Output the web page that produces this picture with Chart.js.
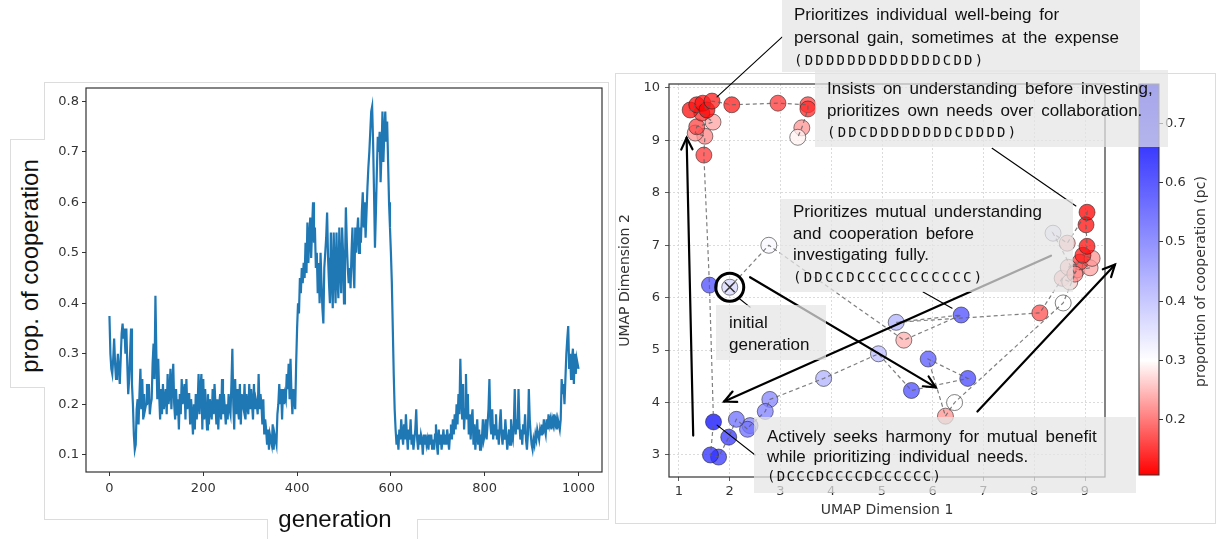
<!DOCTYPE html>
<html><head><meta charset="utf-8">
<script src="https://cdn.jsdelivr.net/npm/chart.js@4"></script>
<style>
html,body{margin:0;padding:0;background:#fff;}
body{width:1225px;height:539px;position:relative;overflow:hidden;font-family:"Liberation Sans",Arial,sans-serif;}
.abs{position:absolute;}
.panel{position:absolute;border:1px solid #dcdcdc;box-sizing:border-box;}
.note{position:absolute;background:rgba(228,228,228,0.72);color:#111;font-size:17px;box-sizing:border-box;white-space:nowrap;word-spacing:3px;}
.mono{font-family:"DejaVu Sans Mono",monospace;font-size:14px;letter-spacing:2.2px;word-spacing:0;}
</style></head><body>
<div class="panel" style="left:44px;top:82px;width:565px;height:438px"></div>
<div class="panel" style="left:615px;top:73px;width:601px;height:451px"></div>
<canvas id="leftChart" class="abs" style="left:0;top:0" width="615" height="539"></canvas>
<canvas id="umapChart" class="abs" style="left:615px;top:0" width="520" height="539"></canvas>
<canvas id="cbChart" class="abs" style="left:1130px;top:0" width="95" height="539"></canvas>

<div class="abs" style="left:10px;top:139px;width:35px;height:249px;background:#fff;border:1px solid #ddd;border-right:none;box-sizing:border-box"></div>
<div class="abs" style="left:30px;top:266px;transform:translate(-50%,-50%) rotate(-90deg);font-size:24px;white-space:nowrap;color:#111">prop. of cooperation</div>
<div class="abs" style="left:267px;top:519px;width:151px;height:25px;background:#fff;border-left:1px solid #ddd;border-right:1px solid #ddd;box-sizing:border-box"></div>
<div class="abs" style="left:335px;top:519px;transform:translate(-50%,-50%);font-size:24px;white-space:nowrap;color:#111">generation</div>

<div class="note" style="left:782px;top:0;width:358px;height:72px;padding:4px 0 0 12px;line-height:22.5px">Prioritizes individual well-being for<br>personal gain, sometimes at the expense<br><span class="mono">(DDDDDDDDDDDDDCDD)</span></div>
<div class="note" style="left:815px;top:70px;width:353px;height:77px;padding:8px 0 0 12px;line-height:21.5px">Insists on understanding before investing,<br>prioritizes own needs over collaboration.<br><span class="mono">(DDCDDDDDDDDCDDDD)</span></div>
<div class="note" style="left:780px;top:199px;width:293px;height:93px;padding:2px 0 0 13px;line-height:21.5px">Prioritizes mutual understanding<br>and cooperation before<br>investigating fully.<br><span class="mono">(DDCCDCCCCCCCCCCC)</span></div>
<div class="note" style="left:716px;top:305px;width:110px;height:55px;padding:7px 0 0 13px;line-height:22px">initial<br>generation</div>
<div class="note" style="left:754px;top:417px;width:382px;height:76px;padding:10px 0 0 13px;line-height:19.5px">Actively seeks harmony for mutual benefit<br>while prioritizing individual needs.<br><span class="mono" style="letter-spacing:1.3px">(DCCCDCCCCDCCCCCC)</span></div>

<script>
// ---------- Left chart data: proportion of cooperation per generation (every 2 generations) ----------
const GEN_STEP = 2;
const coopProp = [
0.375,0.30,0.27,0.26,0.29,0.33,0.28,0.25,0.27,0.30,
0.27,0.24,0.29,0.34,0.36,0.33,0.35,0.30,0.35,0.28,
0.22,0.25,0.30,0.35,0.24,0.20,0.14,0.11,0.12,0.19,
0.21,0.16,0.22,0.27,0.19,0.25,0.17,0.22,0.19,0.20,
0.24,0.20,0.24,0.18,0.20,0.21,0.28,0.32,0.25,0.415,
0.30,0.21,0.29,0.22,0.17,0.23,0.18,0.24,0.19,0.21,
0.23,0.18,0.26,0.20,0.22,0.27,0.19,0.24,0.28,0.20,
0.17,0.23,0.18,0.21,0.15,0.22,0.18,0.25,0.20,0.22,
0.24,0.17,0.25,0.19,0.22,0.22,0.16,0.21,0.18,0.14,
0.20,0.15,0.22,0.17,0.20,0.26,0.18,0.23,0.26,0.15,
0.25,0.17,0.23,0.19,0.15,0.22,0.16,0.21,0.19,0.17,
0.23,0.18,0.24,0.20,0.16,0.21,0.15,0.20,0.22,0.17,
0.25,0.18,0.22,0.19,0.16,0.20,0.17,0.22,0.19,0.18,
0.24,0.31,0.20,0.15,0.25,0.18,0.23,0.19,0.17,0.24,
0.16,0.22,0.20,0.19,0.24,0.17,0.22,0.20,0.18,0.24,
0.19,0.23,0.20,0.17,0.24,0.19,0.21,0.20,0.18,0.26,
0.19,0.22,0.20,0.16,0.21,0.14,0.17,0.15,0.12,0.15,
0.11,0.14,0.13,0.12,0.16,0.11,0.14,0.13,0.12,0.18,
0.20,0.24,0.20,0.23,0.17,0.23,0.20,0.22,0.21,0.26,
0.23,0.28,0.21,0.29,0.22,0.18,0.23,0.21,0.19,0.28,
0.35,0.40,0.38,0.45,0.42,0.47,0.44,0.48,0.45,0.52,
0.46,0.56,0.48,0.53,0.57,0.49,0.55,0.60,0.52,0.55,
0.47,0.50,0.42,0.48,0.40,0.50,0.44,0.39,0.36,0.47,
0.50,0.53,0.58,0.49,0.44,0.40,0.54,0.45,0.39,0.54,
0.47,0.40,0.54,0.45,0.41,0.55,0.47,0.42,0.55,0.50,
0.40,0.47,0.59,0.52,0.47,0.44,0.47,0.43,0.50,0.55,
0.47,0.43,0.55,0.50,0.54,0.57,0.50,0.55,0.52,0.58,
0.62,0.55,0.60,0.53,0.58,0.63,0.67,0.70,0.74,0.78,
0.79,0.72,0.62,0.51,0.58,0.66,0.73,0.70,0.74,0.64,
0.70,0.78,0.68,0.74,0.78,0.72,0.76,0.68,0.60,0.55,
0.50,0.44,0.35,0.26,0.19,0.15,0.12,0.14,0.11,0.15,
0.13,0.17,0.14,0.12,0.16,0.13,0.18,0.14,0.11,0.15,
0.13,0.17,0.12,0.14,0.11,0.13,0.15,0.19,0.13,0.11,
0.14,0.12,0.14,0.13,0.10,0.14,0.12,0.14,0.12,0.13,
0.11,0.14,0.12,0.14,0.11,0.13,0.11,0.14,0.16,0.12,
0.10,0.15,0.12,0.14,0.11,0.13,0.15,0.12,0.14,0.12,
0.15,0.13,0.11,0.14,0.16,0.13,0.17,0.14,0.18,0.15,
0.20,0.16,0.22,0.18,0.29,0.21,0.17,0.24,0.15,0.19,
0.26,0.17,0.22,0.14,0.18,0.13,0.17,0.19,0.12,0.16,
0.11,0.14,0.17,0.12,0.15,0.11,0.14,0.13,0.17,0.13,
0.14,0.17,0.13,0.16,0.19,0.25,0.16,0.14,0.19,0.13,
0.16,0.14,0.18,0.13,0.15,0.12,0.16,0.19,0.14,0.12,
0.15,0.13,0.17,0.14,0.11,0.13,0.15,0.12,0.17,0.14,
0.13,0.16,0.23,0.14,0.17,0.15,0.23,0.16,0.13,0.15,
0.12,0.16,0.14,0.18,0.13,0.11,0.14,0.23,0.17,0.14,
0.12,0.11,0.13,0.12,0.14,0.13,0.15,0.14,0.13,0.15,
0.14,0.16,0.14,0.17,0.15,0.14,0.17,0.15,0.18,0.16,
0.17,0.15,0.17,0.16,0.18,0.16,0.17,0.15,0.17,0.16,
0.15,0.17,0.25,0.22,0.24,0.20,0.25,0.30,0.33,0.355,
0.27,0.30,0.25,0.29,0.31,0.24,0.30,0.26,0.29,0.28,
0.27
];
const leftXTicks = [0,200,400,600,800,1000];
const leftYTicks = [0.1,0.2,0.3,0.4,0.5,0.6,0.7,0.8];

// ---------- Right chart data: UMAP trajectory of strategies ----------
const umapX  = [2.00,2.77,5.43,6.56,5.28,8.11,8.55,8.70,8.84,9.10,8.90,8.67,9.14,8.96,9.04,9.02,9.04,8.65,8.37,8.80,8.57,6.43,6.25,5.91,6.69,5.58,4.93,3.85,2.79,2.70,2.40,2.35,2.13,1.98,1.78,1.62,1.68,1.60,1.49,1.51,1.32,1.35,1.67,1.45,1.22,1.35,1.47,1.55,1.65,2.04,2.95,3.54,3.54,3.42,3.34];
const umapY  = [6.20,7.00,5.19,5.67,5.53,5.71,6.37,6.30,6.53,6.57,6.68,6.58,6.75,6.81,6.98,7.39,7.63,7.04,7.23,6.45,5.90,4.00,3.74,4.83,4.46,4.23,4.93,4.46,4.06,3.83,3.56,3.49,3.68,3.34,2.96,3.00,3.63,6.24,8.72,9.08,9.14,9.26,9.35,9.52,9.58,9.68,9.71,9.58,9.75,9.68,9.71,9.68,9.60,9.24,9.06];
const umapPc = [0.37,0.31,0.24,0.62,0.44,0.17,0.23,0.26,0.22,0.23,0.16,0.24,0.22,0.13,0.12,0.12,0.11,0.24,0.36,0.21,0.30,0.30,0.22,0.60,0.63,0.62,0.42,0.44,0.52,0.53,0.52,0.56,0.56,0.66,0.66,0.68,0.74,0.62,0.15,0.21,0.22,0.16,0.23,0.14,0.12,0.12,0.12,0.11,0.13,0.13,0.15,0.16,0.14,0.22,0.29];
const umapXTicks = [1,2,3,4,5,6,7,8,9];
const umapYTicks = [3,4,5,6,7,8,9,10];

// Colorbar
const cbMin = 0.107, cbCenter = 0.30, cbMax = 0.766;
const cbTicks = [0.2,0.3,0.4,0.5,0.6,0.7];

// Annotation geometry in data units [x0,y0,x1,y1]
const annotationArrows = [[2.40,6.39,6.06,4.29],[8.33,6.80,1.89,4.02],[1.28,3.37,1.15,9.05],[6.88,3.83,9.59,6.63]];
const connectorLines = [[3.03,10.97,1.75,9.83],[7.17,8.85,8.82,7.75],[5.81,6.11,6.38,5.80],[2.18,5.99,2.40,5.82],[1.75,3.57,2.50,3.00]];

Chart.defaults.font.family = "DejaVu Sans";
Chart.defaults.devicePixelRatio = 1;

function pcColor(v, a){
  let r,g,b;
  if (v <= cbCenter){ const t = Math.max(0,Math.min(1,(v-cbMin)/(cbCenter-cbMin))); r=255; g=b=Math.round(255*t); }
  else { const t = Math.max(0,Math.min(1,(v-cbCenter)/(cbMax-cbCenter))); r=g=Math.round(255*(1-t)); b=255; }
  return `rgba(${r},${g},${b},${a})`;
}
function setTicks(arr){ return s => { s.ticks = arr.map(v=>({value:v})); }; }

const framePlugin = {
  id:'frame',
  afterDatasetsDraw(chart){
    const {ctx, chartArea:a} = chart;
    ctx.save(); ctx.strokeStyle='#333'; ctx.lineWidth=1.2;
    ctx.strokeRect(a.left, a.top, a.right-a.left, a.bottom-a.top);
    ctx.restore();
  }
};

// ---------- Left chart ----------
new Chart(document.getElementById('leftChart'), {
  type:'line',
  data:{datasets:[{data: coopProp.map((v,i)=>({x:i*GEN_STEP, y:v})), borderColor:'#1f77b4', borderWidth:2.2, pointRadius:0, tension:0, fill:false}]},
  options:{
    responsive:false, animation:false,
    layout:{padding:{left:0, top:88, right:13, bottom:0}},
    plugins:{legend:{display:false}, tooltip:{enabled:false}},
    scales:{
      x:{type:'linear', min:-50, max:1050, afterBuildTicks:setTicks(leftXTicks), afterFit:s=>{s.height=67;},
         grid:{drawOnChartArea:false, drawTicks:true, tickLength:4, tickColor:'#333'}, border:{display:false},
         ticks:{font:{size:13}, color:'#333', padding:5, maxRotation:0, callback:v=>String(v)}},
      y:{type:'linear', min:0.0657, max:0.8266, afterBuildTicks:setTicks(leftYTicks), afterFit:s=>{s.width=86;},
         grid:{drawOnChartArea:false, drawTicks:true, tickLength:4, tickColor:'#333'}, border:{display:false},
         ticks:{font:{size:13}, color:'#333', padding:3, callback:v=>v.toFixed(1)}}
    }
  },
  plugins:[framePlugin]
});

// ---------- Right chart ----------
function drawArrow(ctx,x0,y0,x1,y1,head){
  ctx.beginPath(); ctx.moveTo(x0,y0); ctx.lineTo(x1,y1); ctx.stroke();
  const a = Math.atan2(y1-y0, x1-x0);
  ctx.beginPath();
  ctx.moveTo(x1-head*Math.cos(a-0.45), y1-head*Math.sin(a-0.45));
  ctx.lineTo(x1,y1);
  ctx.lineTo(x1-head*Math.cos(a+0.45), y1-head*Math.sin(a+0.45));
  ctx.stroke();
}
const annotPlugin = {
  id:'annot',
  afterDatasetsDraw(chart){
    const {ctx, scales:{x,y}} = chart;
    ctx.save(); ctx.strokeStyle='#000'; ctx.lineCap='round';
    ctx.lineWidth=1.1;
    connectorLines.forEach(l=>{ ctx.beginPath(); ctx.moveTo(x.getPixelForValue(l[0]), y.getPixelForValue(l[1])); ctx.lineTo(x.getPixelForValue(l[2]), y.getPixelForValue(l[3])); ctx.stroke(); });
    ctx.lineWidth=2.2;
    annotationArrows.forEach(l=>drawArrow(ctx, x.getPixelForValue(l[0]), y.getPixelForValue(l[1]), x.getPixelForValue(l[2]), y.getPixelForValue(l[3]), 13));
    ctx.restore();
  }
};
const pathPoints = umapX.map((vx,i)=>({x:vx, y:umapY[i]}));
new Chart(document.getElementById('umapChart'), {
  type:'scatter',
  data:{datasets:[
    {data:[pathPoints[0]], pointRadius:14, pointBorderWidth:3, pointBorderColor:'#000', pointBackgroundColor:'rgba(0,0,0,0)', showLine:false, order:0},
    {data:[pathPoints[0]], pointStyle:'crossRot', pointRadius:7, pointBorderColor:'#333', pointBorderWidth:1.5, showLine:false, order:1},
    {data:pathPoints, showLine:true, pointRadius:0, borderColor:'rgba(95,95,95,0.8)', borderWidth:1.2, borderDash:[4,3], order:2},
    {data:pathPoints, showLine:false, pointRadius:8, pointBackgroundColor:umapPc.map(v=>pcColor(v,0.76)), pointBorderColor:'rgba(30,30,30,0.55)', pointBorderWidth:1, order:3}
  ]},
  options:{
    responsive:false, animation:false,
    layout:{padding:{left:0, top:84, right:30, bottom:0}},
    plugins:{legend:{display:false}, tooltip:{enabled:false}},
    scales:{
      x:{type:'linear', min:0.803, max:9.394, afterBuildTicks:setTicks(umapXTicks), afterFit:s=>{s.height=62;},
         grid:{color:'#d2d2d2', lineWidth:0.8, drawTicks:true, tickLength:4, tickColor:'#333'}, border:{display:false, dash:[2,2]},
         ticks:{font:{size:13}, color:'#333', padding:3, maxRotation:0},
         title:{display:true, text:'UMAP Dimension 1', font:{size:14}, color:'#333', padding:{top:0,bottom:20}}},
      y:{type:'linear', min:2.58, max:10.076, afterBuildTicks:setTicks(umapYTicks), afterFit:s=>{s.width=54;},
         grid:{color:'#d2d2d2', lineWidth:0.8, drawTicks:true, tickLength:4, tickColor:'#333'}, border:{display:false, dash:[2,2]},
         ticks:{font:{size:13}, color:'#333', padding:5},
         title:{display:true, text:'UMAP Dimension 2', font:{size:14}, color:'#333', padding:{top:2,bottom:0}}}
    }
  },
  plugins:[framePlugin, annotPlugin]
});

// ---------- Colorbar ----------
const cbPlugin = {
  id:'cb',
  beforeDatasetsDraw(chart){
    const {ctx, chartArea:a, scales:{y}} = chart;
    const y0 = y.getPixelForValue(cbMin), y1 = y.getPixelForValue(cbMax);
    const g = ctx.createLinearGradient(0,y0,0,y1);
    g.addColorStop(0,'rgb(255,0,0)');
    g.addColorStop((cbCenter-cbMin)/(cbMax-cbMin),'rgb(255,255,255)');
    g.addColorStop(1,'rgb(0,0,255)');
    ctx.save(); ctx.fillStyle=g; ctx.fillRect(a.left,a.top,a.right-a.left,a.bottom-a.top);
    ctx.strokeStyle='#333'; ctx.lineWidth=1; ctx.strokeRect(a.left,a.top,a.right-a.left,a.bottom-a.top);
    ctx.translate(71,(a.top+a.bottom)/2 + 2); ctx.rotate(-Math.PI/2);
    ctx.fillStyle='#333'; ctx.font='14px "DejaVu Sans"'; ctx.textAlign='center'; ctx.textBaseline='middle';
    ctx.fillText('proportion of cooperation (pc)',0,0);
    ctx.restore();
  }
};
new Chart(document.getElementById('cbChart'), {
  type:'scatter',
  data:{datasets:[{data:[]}]},
  options:{
    responsive:false, animation:false,
    layout:{padding:{left:9, top:84, right:0, bottom:64}},
    plugins:{legend:{display:false}, tooltip:{enabled:false}},
    scales:{
      x:{display:false, min:0, max:1},
      y:{position:'right', min:cbMin, max:cbMax, afterBuildTicks:setTicks(cbTicks), afterFit:s=>{s.width=66;},
         grid:{drawOnChartArea:false, drawTicks:true, tickLength:4, tickColor:'#333'}, border:{display:false},
         ticks:{font:{size:13}, color:'#333', padding:2, callback:v=>v.toFixed(1)}}
    }
  },
  plugins:[cbPlugin]
});
</script>
</body></html>
